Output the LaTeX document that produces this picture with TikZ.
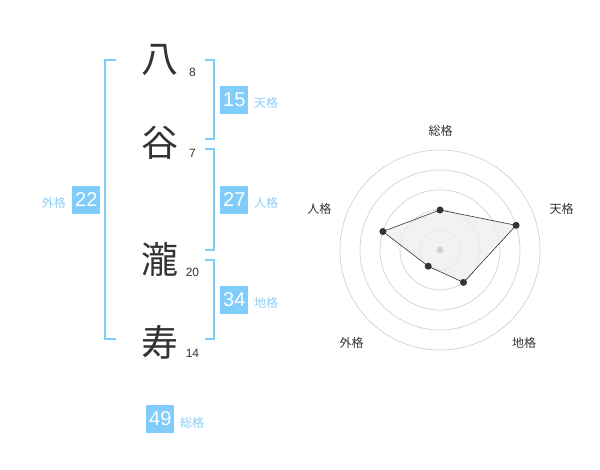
\documentclass[tikz,border=0pt]{standalone}
\usepackage{fontspec}
\setmainfont{Liberation Sans}
\newfontfamily\jp{Noto Sans CJK JP}
\definecolor{sky}{RGB}{128,204,250}
\definecolor{skytext}{RGB}{140,205,245}
\definecolor{ink}{RGB}{51,51,51}
\definecolor{ring}{RGB}{210,210,210}
\definecolor{area}{RGB}{238,238,238}
\begin{document}
\begin{tikzpicture}[x=1pt,y=-1pt,
  kanji/.style={font=\jp\fontsize{37}{37}\selectfont, text=ink, inner sep=0pt},
  stroke/.style={font=\fontsize{12}{12}\selectfont, text=ink, inner sep=0pt},
  valbox/.style={fill=sky, text=white, minimum width=28pt, minimum height=28pt, inner sep=0pt, font=\fontsize{20}{20}\selectfont},
  kaku/.style={font=\jp\fontsize{12}{12}\selectfont, text=skytext, inner sep=0pt},
  bracket/.style={draw=sky, line width=1.6pt},
  axislabel/.style={font=\jp\fontsize{12}{12}\selectfont, text=ink, inner sep=0pt},
  ringline/.style={draw=ring, line width=0.7pt},
  dot/.style={circle, fill=ink, inner sep=0pt, minimum size=7pt}]
\useasboundingbox (0,0) rectangle (600,470);
% characters
\node[kanji] (c1) at (160,60) {八};
\node[kanji] (c2) at (160,143) {谷};
\node[kanji] (c3) at (160,259) {瀧};
\node[kanji] (c4) at (160,342) {寿};
\node[stroke] (n1) at (192.5,72.5) {8};
\node[stroke] (n2) at (192.5,153) {7};
\node[stroke] (n3) at (192.5,272) {20};
\node[stroke] (n4) at (192.5,353) {14};
% brackets
\draw[bracket] (116,60) -- (105,60) -- (105,339) -- (116,339);
\draw[bracket] (205,60) -- (214,60) -- (214,139) -- (205,139);
\draw[bracket] (205,149) -- (214,149) -- (214,250) -- (205,250);
\draw[bracket] (205,260) -- (214,260) -- (214,339) -- (205,339);
% value boxes
\node[valbox] (ten) at (234.3,100) {15};
\node[kaku, anchor=west] (tenl) at (254,103) {天格};
\node[valbox] (jin) at (234.3,200) {27};
\node[kaku, anchor=west] (jinl) at (254,203) {人格};
\node[valbox] (chi) at (234.3,300) {34};
\node[kaku, anchor=west] (chil) at (254,303) {地格};
\node[valbox] (gai) at (86.3,200) {22};
\node[kaku, anchor=east] (gail) at (66,203) {外格};
\node[valbox] (sou) at (160.3,419) {49};
\node[kaku, anchor=west] (soul) at (180,423) {総格};
% radar
\coordinate (o) at (440,250);
\foreach \r in {20,40,60,80,100} \draw[ringline] (o) circle[radius=\r];
\path (o) +(0,-40) coordinate (p1);
\path (o) +(76.1,-24.7) coordinate (p2);
\path (o) +(23.5,32.4) coordinate (p3);
\path (o) +(-11.8,16.2) coordinate (p4);
\path (o) +(-57.1,-18.5) coordinate (p5);
\draw[fill=area, fill opacity=0.75, draw=ink, line width=0.6pt] (p1) -- (p2) -- (p3) -- (p4) -- (p5) -- cycle;
\fill[ring] (o) circle[radius=3.3];
\foreach \i in {1,...,5} \node[dot] (d\i) at (p\i) {};
\node[axislabel] (a1) at (440.7,130.5) {総格};
\node[axislabel] (a2) at (561.7,208.5) {天格};
\node[axislabel] (a3) at (524,342.5) {地格};
\node[axislabel] (a4) at (351.7,342.5) {外格};
\node[axislabel] (a5) at (319.3,209) {人格};
\end{tikzpicture}
\end{document}
